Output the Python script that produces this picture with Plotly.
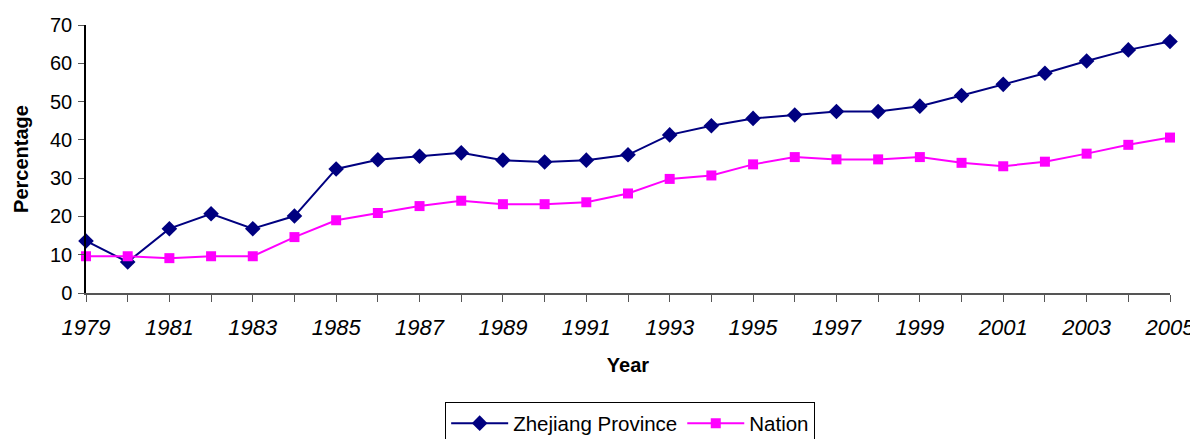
import plotly.graph_objects as go

years = list(range(1979, 2006))
zhejiang = [13.6, 8.1, 16.8, 20.7, 16.8, 20.1, 32.4, 34.8, 35.7, 36.6, 34.7, 34.2, 34.7,
            36.1, 41.3, 43.7, 45.6, 46.5, 47.4, 47.4, 48.8, 51.6, 54.5, 57.4, 60.6, 63.5, 65.7]
nation = [9.6, 9.6, 9.1, 9.6, 9.6, 14.6, 19.0, 20.9, 22.7, 24.1, 23.2, 23.2, 23.7,
          26.0, 29.8, 30.7, 33.6, 35.5, 34.9, 34.9, 35.5, 34.0, 33.1, 34.3, 36.4, 38.7, 40.6]
x_tick_labels = [str(y) if (y - 1979) % 2 == 0 else "" for y in years]
y_ticks = [0, 10, 20, 30, 40, 50, 60, 70]

fig = go.Figure()
fig.add_trace(go.Scatter(
    x=years, y=zhejiang, name="Zhejiang Province", mode="lines+markers",
    line=dict(color="#000080", width=2),
    marker=dict(symbol="diamond", size=12, color="#000080"),
    cliponaxis=False,
))
fig.add_trace(go.Scatter(
    x=years, y=nation, name="Nation", mode="lines+markers",
    line=dict(color="#FF00FF", width=2),
    marker=dict(symbol="square", size=10, color="#FF00FF"),
    cliponaxis=False,
))

# page body has an 8px default margin, so the figure is offset by (8, 8)
fig.update_layout(
    width=1190, height=431,
    margin=dict(l=78, r=28, t=17, b=146, autoexpand=False),
    paper_bgcolor="white", plot_bgcolor="white",
    font=dict(family="Liberation Sans, Arial, sans-serif", color="black"),
    showlegend=True,
    legend=dict(
        orientation="h", x=0.502, xanchor="center", y=-0.408, yanchor="top",
        bordercolor="black", borderwidth=1, font=dict(size=20.5),
        itemwidth=57, tracegroupgap=0,
    ),
    xaxis=dict(
        range=[1979, 2005], tickmode="array", tickvals=years, ticktext=x_tick_labels,
        showgrid=False, zeroline=False, showline=True, linecolor="#555555", linewidth=1.5,
        ticks="outside", ticklen=7, tickcolor="#555555", tickwidth=1,
        tickfont=dict(size=22, style="italic"), ticklabelstandoff=7,
        title=dict(text="<b>Year</b>", font=dict(size=20), standoff=19),
        automargin=False,
    ),
    yaxis=dict(
        range=[0, 70], tickmode="array", tickvals=y_ticks,
        showgrid=False, zeroline=False, showline=True, linecolor="black", linewidth=1.5,
        ticks="outside", ticklen=6, tickcolor="#555555",
        tickfont=dict(size=20), ticklabelstandoff=2,
        title=dict(text="<b>Percentage</b>", font=dict(size=20), standoff=16),
        automargin=False,
    ),
)

fig.write_html("out.html")
